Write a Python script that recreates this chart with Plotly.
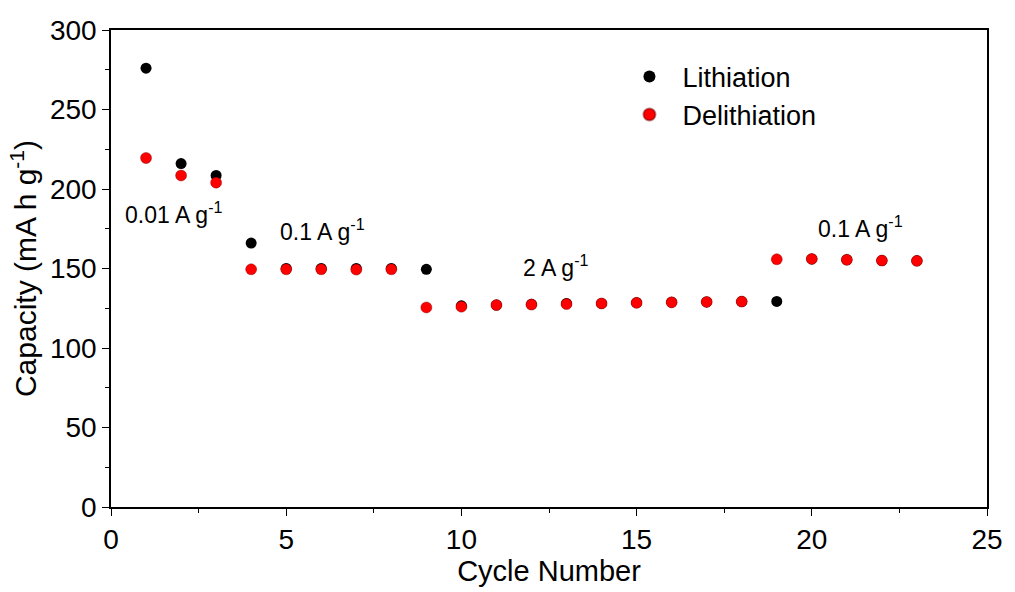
import plotly.graph_objects as go

cycles = list(range(1, 24))
lithiation = [276, 216, 208.5, 166, 150, 150, 150, 150, 149.5,
              126.5, 127, 127.5, 128, 128, 128.5, 128.8, 129, 129.2, 129.3,
              156, 155.5, 155, 154.8]
delithiation = [219.5, 208.5, 204, 149.5, 149.5, 149.5, 149.3, 149.5, 125.5,
                126, 127, 127.3, 127.6, 128, 128.4, 128.7, 129, 129.2,
                155.8, 156, 155.5, 155, 154.8]

annot_x = [1.8, 6.05, 12.7, 21.4]
annot_y = [185, 174, 151.5, 176]
annot_text = ["0.01 A g<sup>-1</sup>", "0.1 A g<sup>-1</sup>", "2 A g<sup>-1</sup>", "0.1 A g<sup>-1</sup>"]

FONT = "Liberation Sans, Arial, sans-serif"

fig = go.Figure()
fig.add_trace(go.Scatter(x=cycles, y=lithiation, mode="markers", name="Lithiation",
                         marker=dict(color="black", size=11)))
fig.add_trace(go.Scatter(x=cycles, y=delithiation, mode="markers", name="Delithiation",
                         marker=dict(color="#ff0000", size=11,
                                     line=dict(color="rgba(120,0,0,0.5)", width=0.8))))

for x, y, t in zip(annot_x, annot_y, annot_text):
    fig.add_annotation(x=x, y=y, text=t, showarrow=False,
                       font=dict(family=FONT, size=23, color="black"))

axis_common = dict(showgrid=False, zeroline=False, showline=True, linecolor="black",
                   linewidth=1.5, mirror=True, ticks="outside", ticklen=7, tickwidth=1.2,
                   tickcolor="black", tickfont=dict(family=FONT, size=28, color="black"))

fig.update_xaxes(range=[0, 25], dtick=5, tick0=0,
                 minor=dict(dtick=2.5, ticks="outside", ticklen=4, tickcolor="black", tickwidth=1),
                 title=dict(text="Cycle Number", font=dict(family=FONT, size=29, color="black"),
                            standoff=2),
                 **axis_common)
fig.update_yaxes(range=[0, 300], dtick=50, tick0=0,
                 minor=dict(dtick=25, ticks="outside", ticklen=4, tickcolor="black", tickwidth=1),
                 title=dict(text="Capacity (mA h g<sup>-1</sup>)",
                            font=dict(family=FONT, size=30, color="black"), standoff=4),
                 **axis_common)

fig.update_layout(
    width=1015, height=592,
    margin=dict(l=111, r=22, t=30, b=85),
    paper_bgcolor="white", plot_bgcolor="white",
    showlegend=True,
    legend=dict(x=0.577, y=0.953, xanchor="left", yanchor="top",
                bgcolor="rgba(0,0,0,0)", font=dict(family=FONT, size=27, color="black"),
                itemsizing="constant", tracegroupgap=0, itemwidth=56),
)

fig.write_html("out.html")
